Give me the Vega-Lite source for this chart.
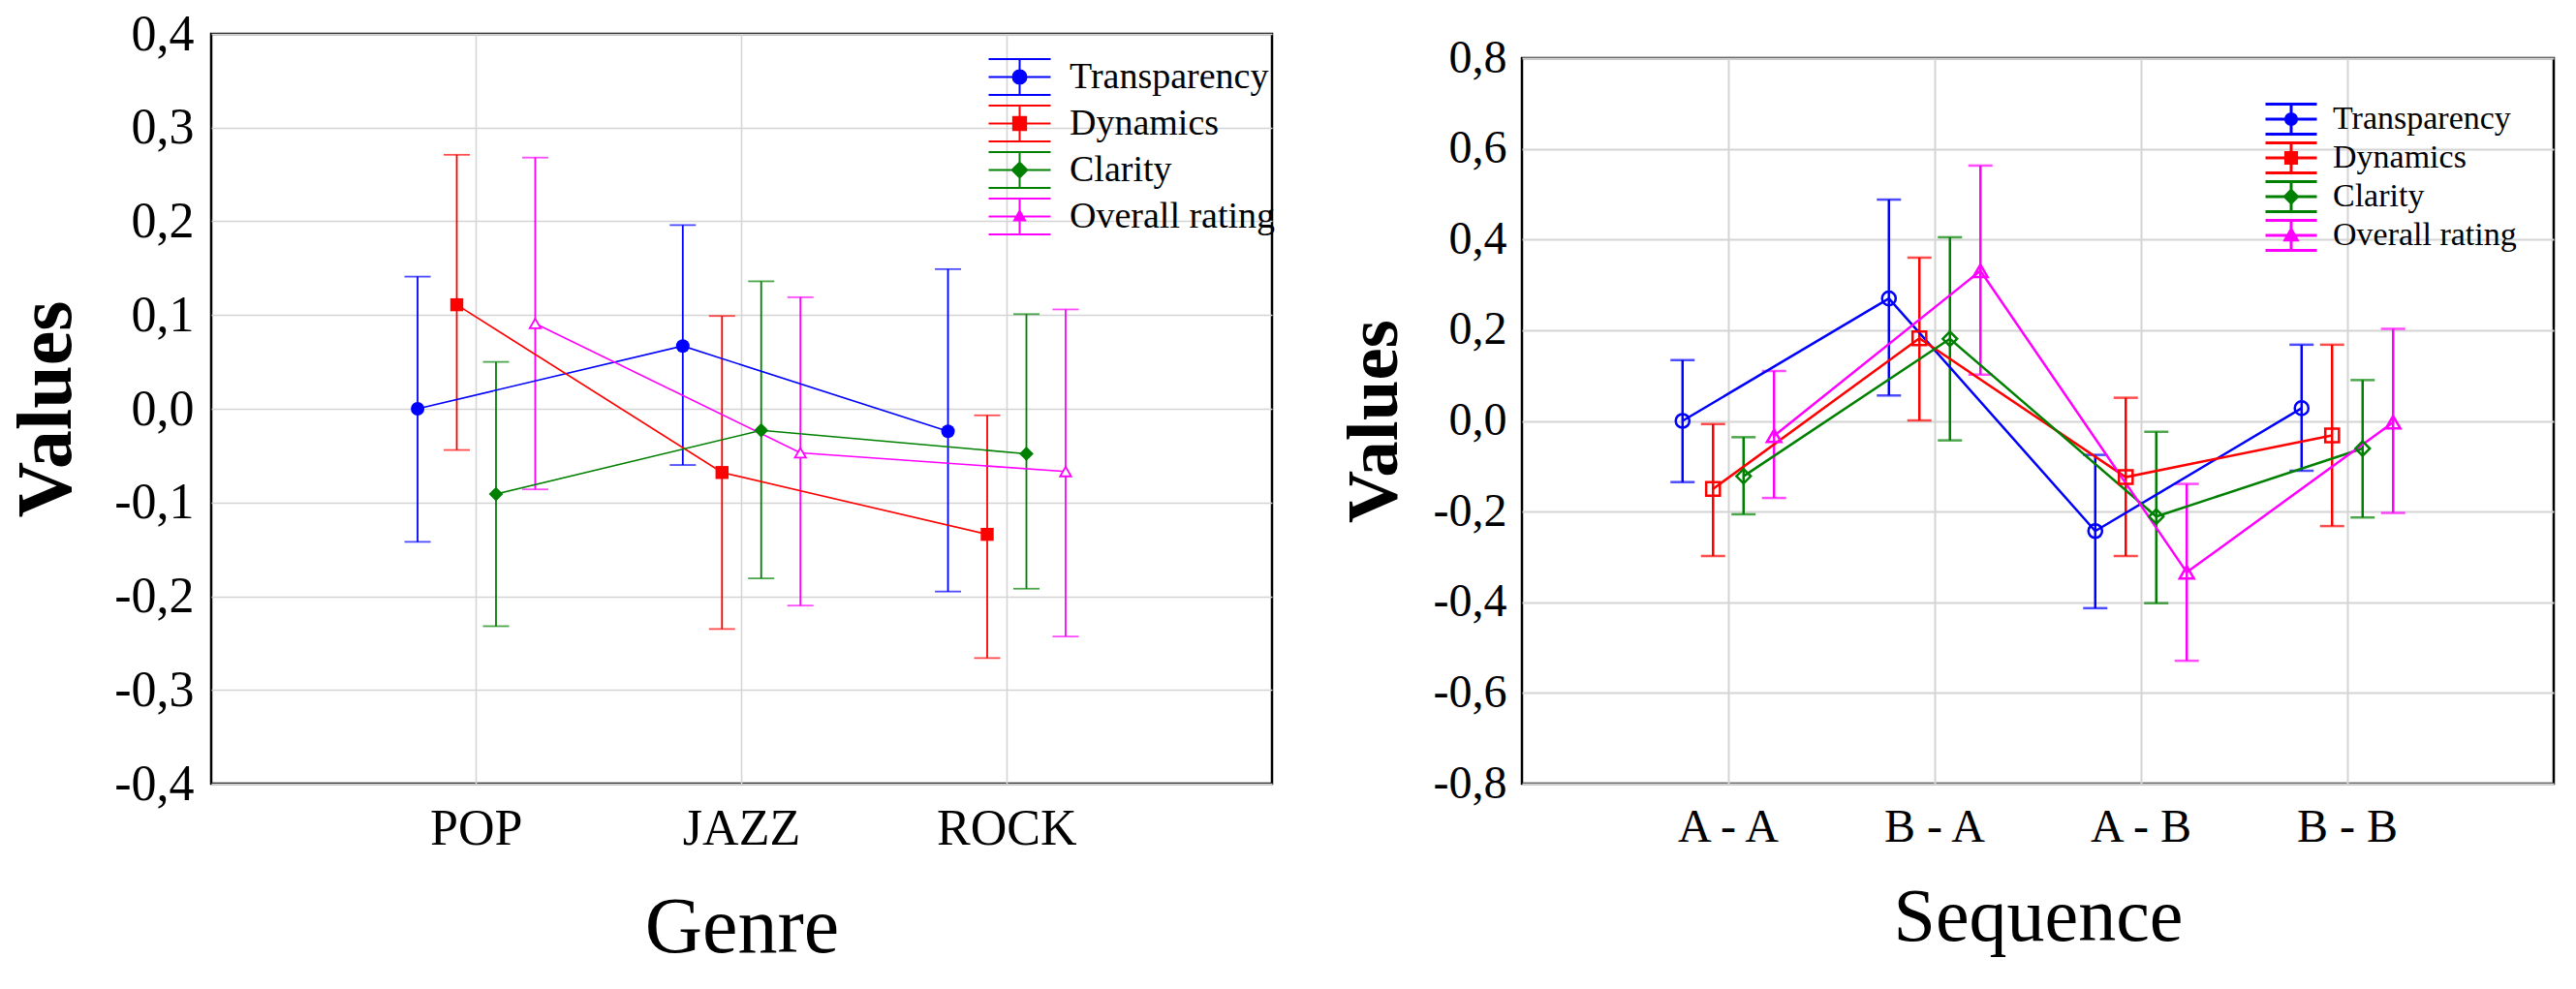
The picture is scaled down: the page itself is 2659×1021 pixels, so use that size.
{
  "$schema": "https://vega.github.io/schema/vega-lite/v6.json",
  "description": "Mean ratings with error bars by genre and by sequence",
  "padding": {"left": 7, "top": 7, "right": 0, "bottom": 0},
  "spacing": 60,
  "datasets": {
    "genre": [
      {"genre": "POP", "series": "Transparency", "mean": 0.0, "lo": -0.142, "hi": 0.141},
      {"genre": "POP", "series": "Dynamics", "mean": 0.111, "lo": -0.044, "hi": 0.271},
      {"genre": "POP", "series": "Clarity", "mean": -0.091, "lo": -0.232, "hi": 0.05},
      {"genre": "POP", "series": "Overall rating", "mean": 0.091, "lo": -0.086, "hi": 0.268},
      {"genre": "JAZZ", "series": "Transparency", "mean": 0.067, "lo": -0.06, "hi": 0.196},
      {"genre": "JAZZ", "series": "Dynamics", "mean": -0.068, "lo": -0.235, "hi": 0.099},
      {"genre": "JAZZ", "series": "Clarity", "mean": -0.023, "lo": -0.181, "hi": 0.136},
      {"genre": "JAZZ", "series": "Overall rating", "mean": -0.047, "lo": -0.21, "hi": 0.119},
      {"genre": "ROCK", "series": "Transparency", "mean": -0.024, "lo": -0.195, "hi": 0.149},
      {"genre": "ROCK", "series": "Dynamics", "mean": -0.134, "lo": -0.266, "hi": -0.007},
      {"genre": "ROCK", "series": "Clarity", "mean": -0.048, "lo": -0.192, "hi": 0.101},
      {"genre": "ROCK", "series": "Overall rating", "mean": -0.067, "lo": -0.243, "hi": 0.106}
    ],
    "sequence": [
      {"sequence": "A - A", "series": "Transparency", "mean": 0.0, "lo": -0.135, "hi": 0.134},
      {"sequence": "A - A", "series": "Dynamics", "mean": -0.15, "lo": -0.298, "hi": -0.007},
      {"sequence": "A - A", "series": "Clarity", "mean": -0.122, "lo": -0.206, "hi": -0.036},
      {"sequence": "A - A", "series": "Overall rating", "mean": -0.033, "lo": -0.17, "hi": 0.11},
      {"sequence": "B - A", "series": "Transparency", "mean": 0.27, "lo": 0.056, "hi": 0.488},
      {"sequence": "B - A", "series": "Dynamics", "mean": 0.182, "lo": 0.001, "hi": 0.36},
      {"sequence": "B - A", "series": "Clarity", "mean": 0.181, "lo": -0.043, "hi": 0.405},
      {"sequence": "B - A", "series": "Overall rating", "mean": 0.331, "lo": 0.102, "hi": 0.563},
      {"sequence": "A - B", "series": "Transparency", "mean": -0.243, "lo": -0.413, "hi": -0.075},
      {"sequence": "A - B", "series": "Dynamics", "mean": -0.124, "lo": -0.298, "hi": 0.051},
      {"sequence": "A - B", "series": "Clarity", "mean": -0.211, "lo": -0.402, "hi": -0.024},
      {"sequence": "A - B", "series": "Overall rating", "mean": -0.334, "lo": -0.529, "hi": -0.139},
      {"sequence": "B - B", "series": "Transparency", "mean": 0.028, "lo": -0.11, "hi": 0.168},
      {"sequence": "B - B", "series": "Dynamics", "mean": -0.032, "lo": -0.232, "hi": 0.168},
      {"sequence": "B - B", "series": "Clarity", "mean": -0.061, "lo": -0.213, "hi": 0.09},
      {"sequence": "B - B", "series": "Overall rating", "mean": -0.003, "lo": -0.203, "hi": 0.203}
    ]
  },
  "hconcat": [
    {
      "width": 1095,
      "height": 774,
      "data": {"name": "genre"},
      "encoding": {
        "x": {
          "field": "genre", "type": "nominal", "sort": ["POP", "JAZZ", "ROCK"],
          "scale": {"type": "band", "paddingInner": 0.113, "paddingOuter": 0.5565},
          "title": "Genre",
          "axis": {"bandPosition": 0.5, "labelAngle": 0, "labelFontSize": 52, "labelPadding": 21, "titleFontSize": 82, "titleFontWeight": "normal", "titlePadding": 36, "gridWidth": 1.5}
        },
        "xOffset": {
          "field": "series", "type": "nominal",
          "scale": {"domain": ["Transparency", "Dynamics", "Clarity", "Overall rating"], "paddingInner": 0, "paddingOuter": 1}
        },
        "y": {
          "field": "mean", "type": "quantitative",
          "scale": {"domain": [-0.4, 0.4], "nice": false, "zero": false},
          "title": "Values",
          "axis": {"values": [-0.4, -0.3, -0.2, -0.1, 0, 0.1, 0.2, 0.3, 0.4], "format": ".1f", "labelFontSize": 52, "labelPadding": 18, "labelOverlap": false, "titleFontSize": 80, "titleFontWeight": "bold", "titlePadding": 28, "gridWidth": 1.5}
        }
      },
      "layer": [
        {
          "mark": {"type": "rule", "strokeWidth": 1.8},
          "encoding": {
            "y": {"field": "lo", "type": "quantitative"},
            "y2": {"field": "hi"},
            "color": {
              "field": "series", "type": "nominal",
              "scale": {"domain": ["Transparency", "Dynamics", "Clarity", "Overall rating"], "range": ["#0000ff", "#ff0000", "#008000", "#ff00ff"]},
              "legend": {
                "title": null, "orient": "none", "legendX": 815, "legendY": 25,
                "labelFontSize": 38, "labelColor": "black", "labelOffset": 32, "labelLimit": 0, "rowPadding": 3, "padding": 0,
                "symbolSize": 1369, "symbolStrokeWidth": 2,
                "encode": {
                  "symbols": {
                    "update": {
                      "shape": {"signal": "datum.value === 'Transparency' ? 'M-1.73,-1H1.73M-1.73,0H1.73M-1.73,1H1.73M0,-1V1M-0.38,0A0.38,0.38,0,1,1,0.38,0A0.38,0.38,0,1,1,-0.38,0Z' : datum.value === 'Dynamics' ? 'M-1.73,-1H1.73M-1.73,0H1.73M-1.73,1H1.73M0,-1V1M-0.36,-0.36H0.36V0.36H-0.36Z' : datum.value === 'Clarity' ? 'M-1.73,-1H1.73M-1.73,0H1.73M-1.73,1H1.73M0,-1V1M0,-0.42L0.42,0L0,0.42L-0.42,0Z' : 'M-1.73,-1H1.73M-1.73,0H1.73M-1.73,1H1.73M0,-1V1M0,-0.32L0.3,0.22H-0.3Z'"},
                      "fill": {"signal": "datum.value === 'Transparency' ? '#0000ff' : datum.value === 'Dynamics' ? '#ff0000' : datum.value === 'Clarity' ? '#008000' : 'white'"},
                      "size": {"value": 1369},
                      "strokeWidth": {"value": 2},
                      "opacity": {"value": 1}
                    }
                  }
                }
              }
            }
          }
        },
        {
          "mark": {"type": "tick", "orient": "horizontal", "size": 27, "thickness": 1.8},
          "encoding": {"y": {"field": "lo", "type": "quantitative"}, "color": {"field": "series", "type": "nominal"}}
        },
        {
          "mark": {"type": "tick", "orient": "horizontal", "size": 27, "thickness": 1.8},
          "encoding": {"y": {"field": "hi", "type": "quantitative"}, "color": {"field": "series", "type": "nominal"}}
        },
        {
          "mark": {"type": "line", "strokeWidth": 1.6},
          "encoding": {"color": {"field": "series", "type": "nominal"}}
        },
        {
          "transform": [{"filter": "datum.series === 'Transparency'"}],
          "mark": {"type": "point", "shape": "circle", "size": 196, "filled": true, "color": "#0000ff", "opacity": 1}
        },
        {
          "transform": [{"filter": "datum.series === 'Dynamics'"}],
          "mark": {"type": "point", "shape": "square", "size": 180, "filled": true, "color": "#ff0000", "opacity": 1}
        },
        {
          "transform": [{"filter": "datum.series === 'Clarity'"}],
          "mark": {"type": "point", "shape": "diamond", "size": 220, "filled": true, "color": "#008000", "opacity": 1}
        },
        {
          "transform": [{"filter": "datum.series === 'Overall rating'"}],
          "mark": {"type": "point", "shape": "triangle-up", "size": 130, "filled": false, "fill": "white", "stroke": "#ff00ff", "strokeWidth": 1.8, "opacity": 1}
        }
      ]
    },
    {
      "spacing": -2,
      "vconcat": [
        {
          "width": 1,
          "height": 1,
          "data": {"values": []},
          "mark": {"type": "point", "opacity": 0},
          "view": {"stroke": null}
        },
        {
          "width": 1065,
          "height": 749,
          "data": {"name": "sequence"},
          "encoding": {
            "x": {
              "field": "sequence", "type": "nominal", "sort": ["A - A", "B - A", "A - B", "B - B"],
              "scale": {"type": "band", "paddingInner": 0.113, "paddingOuter": 0.5565},
              "title": "Sequence",
              "axis": {"bandPosition": 0.5, "labelAngle": 0, "labelFontSize": 48, "labelPadding": 21, "titleFontSize": 78, "titleFontWeight": "normal", "titlePadding": 30, "gridWidth": 2}
            },
            "xOffset": {
              "field": "series", "type": "nominal",
              "scale": {"domain": ["Transparency", "Dynamics", "Clarity", "Overall rating"], "paddingInner": 0, "paddingOuter": 1}
            },
            "y": {
              "field": "mean", "type": "quantitative",
              "scale": {"domain": [-0.8, 0.8], "nice": false, "zero": false},
              "title": "Values",
              "axis": {"values": [-0.8, -0.6, -0.4, -0.2, 0, 0.2, 0.4, 0.6, 0.8], "format": ".1f", "labelFontSize": 48, "labelPadding": 16, "labelOverlap": false, "titleFontSize": 75, "titleFontWeight": "bold", "titlePadding": 22, "gridWidth": 2}
            }
          },
          "layer": [
            {
              "mark": {"type": "rule", "strokeWidth": 2.5},
              "encoding": {
                "y": {"field": "lo", "type": "quantitative"},
                "y2": {"field": "hi"},
                "color": {
                  "field": "series", "type": "nominal",
                  "scale": {"domain": ["Transparency", "Dynamics", "Clarity", "Overall rating"], "range": ["#0000ff", "#ff0000", "#008000", "#ff00ff"]},
                  "legend": {
                    "title": null, "orient": "none", "legendX": 777, "legendY": 71,
                    "labelFontSize": 34, "labelColor": "black", "labelOffset": 26, "labelLimit": 0, "rowPadding": -4, "padding": 0,
                    "symbolSize": 961, "symbolStrokeWidth": 3,
                    "encode": {
                      "symbols": {
                        "update": {
                          "shape": {"signal": "datum.value === 'Transparency' ? 'M-1.71,-1H1.71M-1.71,0H1.71M-1.71,1H1.71M0,-1V1M-0.36,0A0.36,0.36,0,1,1,0.36,0A0.36,0.36,0,1,1,-0.36,0Z' : datum.value === 'Dynamics' ? 'M-1.71,-1H1.71M-1.71,0H1.71M-1.71,1H1.71M0,-1V1M-0.36,-0.36H0.36V0.36H-0.36Z' : datum.value === 'Clarity' ? 'M-1.71,-1H1.71M-1.71,0H1.71M-1.71,1H1.71M0,-1V1M0,-0.42L0.42,0L0,0.42L-0.42,0Z' : 'M-1.71,-1H1.71M-1.71,0H1.71M-1.71,1H1.71M0,-1V1M0,-0.4L0.4,0.3H-0.4Z'"},
                          "fill": {"value": "transparent"},
                          "size": {"value": 961},
                          "strokeWidth": {"value": 3},
                          "opacity": {"value": 1}
                        }
                      }
                    }
                  }
                }
              }
            },
            {
              "mark": {"type": "tick", "orient": "horizontal", "size": 25, "thickness": 2.5},
              "encoding": {"y": {"field": "lo", "type": "quantitative"}, "color": {"field": "series", "type": "nominal"}}
            },
            {
              "mark": {"type": "tick", "orient": "horizontal", "size": 25, "thickness": 2.5},
              "encoding": {"y": {"field": "hi", "type": "quantitative"}, "color": {"field": "series", "type": "nominal"}}
            },
            {
              "mark": {"type": "line", "strokeWidth": 2.5},
              "encoding": {"color": {"field": "series", "type": "nominal"}}
            },
            {
              "transform": [{"filter": "datum.series === 'Transparency'"}],
              "mark": {"type": "point", "shape": "circle", "size": 200, "filled": false, "stroke": "#0000ff", "strokeWidth": 2.5, "opacity": 1}
            },
            {
              "transform": [{"filter": "datum.series === 'Dynamics'"}],
              "mark": {"type": "point", "shape": "square", "size": 200, "filled": false, "stroke": "#ff0000", "strokeWidth": 2.5, "opacity": 1}
            },
            {
              "transform": [{"filter": "datum.series === 'Clarity'"}],
              "mark": {"type": "point", "shape": "diamond", "size": 220, "filled": false, "stroke": "#008000", "strokeWidth": 2.5, "opacity": 1}
            },
            {
              "transform": [{"filter": "datum.series === 'Overall rating'"}],
              "mark": {"type": "point", "shape": "triangle-up", "size": 220, "filled": false, "stroke": "#ff00ff", "strokeWidth": 2.5, "opacity": 1}
            }
          ]
        }
      ]
    }
  ],
  "resolve": {
    "scale": {"x": "independent", "y": "independent", "xOffset": "independent", "color": "independent"},
    "legend": {"color": "independent"}
  },
  "config": {
    "font": "Liberation Serif",
    "view": {"stroke": "black", "strokeWidth": 2.5},
    "axis": {"domain": false, "ticks": false, "grid": true, "gridColor": "#d4d4d4", "labelColor": "black", "titleColor": "black", "labelFont": "Liberation Serif", "titleFont": "Liberation Serif"},
    "legend": {"labelFont": "Liberation Serif"},
    "locale": {"number": {"decimal": ",", "thousands": ".", "grouping": [3], "currency": ["", ""], "minus": "-"}}
  }
}
